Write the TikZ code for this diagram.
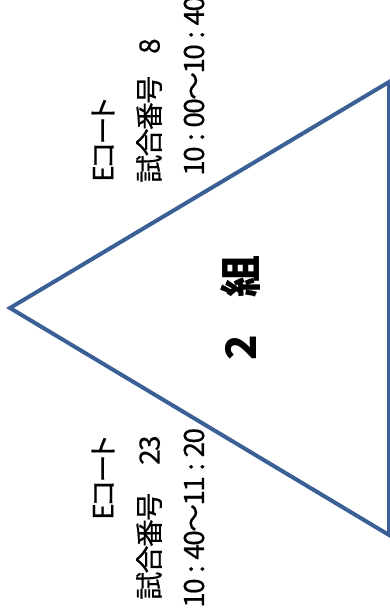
\documentclass[tikz,border=0pt]{standalone}
\usepackage{fontspec}
\setmainfont{Noto Sans CJK JP}
\newfontfamily\lblfont{Noto Sans CJK JP}[LetterSpace=-6,FakeBold=0.4]
\definecolor{tri}{HTML}{3A6096}
\newcommand{\cln}{\hspace{5.5pt}:\hspace{5.5pt}}
\begin{document}
\begin{tikzpicture}[x=1pt,y=-1pt,
  lbl/.style={rotate=90,anchor=west,inner sep=0pt,font=\lblfont\fontsize{28}{32}\selectfont},
  kana/.style={lbl,font=\lblfont\fontsize{28}{32}\selectfont\addfontfeature{CharacterWidth=AlternateProportional,LetterSpace=-10}},
  big/.style={rotate=90,inner sep=0pt,font=\fontsize{42}{48}\selectfont\bfseries}]
\useasboundingbox (0,0) rectangle (390,612);
\draw[tri,line width=4pt] (10,308) coordinate (L) -- (389,82) coordinate (T) -- (389,535) coordinate (B) -- cycle;
\node[kana] (c1) at (103,182) {Eコート};
\node[lbl] (n1) at (149,183) {試合番号\hspace{22pt}8};
\node[lbl] (t1) at (194,176) {10\cln 00～10\cln 40};
\node[kana] (c2) at (103,520) {Eコート};
\node[lbl] (n2) at (149,600) {試合番号\hspace{28pt}23};
\node[lbl] (t2) at (194,608) {10\cln 40～11\cln 20};
\node[big] (g) at (241,308) {2\hspace{38pt}組};
\end{tikzpicture}
\end{document}
